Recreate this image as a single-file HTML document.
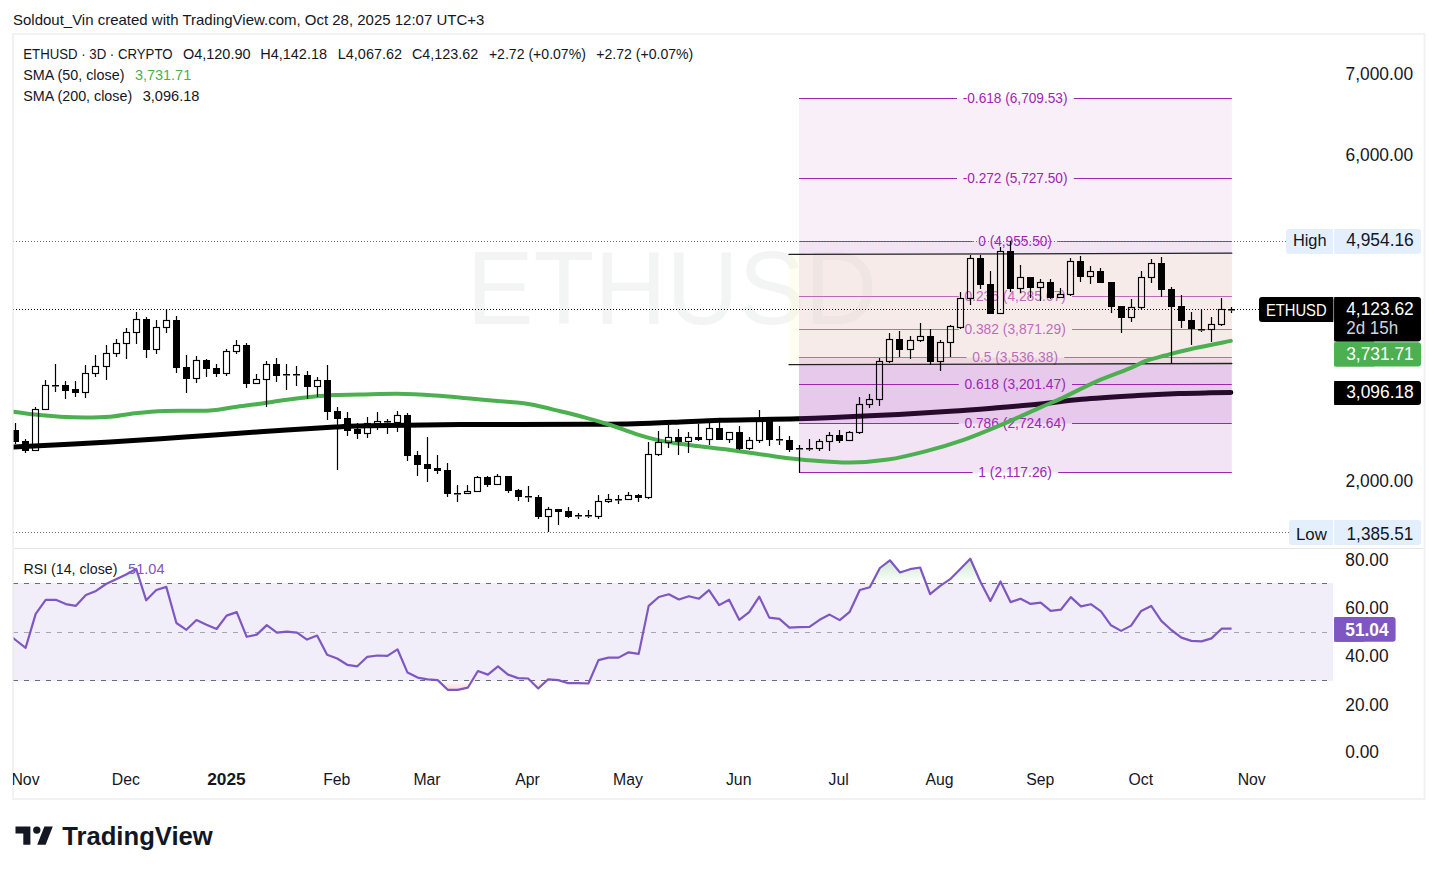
<!DOCTYPE html>
<html><head><meta charset="utf-8"><title>ETHUSD chart</title>
<style>html,body{margin:0;padding:0;background:#fff;width:1438px;height:874px;overflow:hidden;position:relative;font-family:"Liberation Sans",sans-serif;}</style>
</head><body>
<svg width="1438" height="874" viewBox="0 0 1438 874" style="position:absolute;left:0;top:0" font-family='"Liberation Sans", sans-serif'>
<defs><clipPath id="pane"><rect x="13.6" y="35" width="1319.4" height="513"/></clipPath><clipPath id="rsipane"><rect x="13.6" y="549" width="1319.4" height="216"/></clipPath><linearGradient id="gup" x1="0" y1="0" x2="0" y2="1"><stop offset="0" stop-color="#4caf50" stop-opacity="0.28"/><stop offset="1" stop-color="#4caf50" stop-opacity="0"/></linearGradient><linearGradient id="gdn" x1="0" y1="0" x2="0" y2="1"><stop offset="0" stop-color="#f23645" stop-opacity="0"/><stop offset="1" stop-color="#f23645" stop-opacity="0.2"/></linearGradient></defs>
<rect x="0" y="0" width="1438" height="874" fill="#ffffff"/>
<text x="13.0" y="25.0" font-size="14.5" fill="#131722" text-anchor="start" textLength="471.3" lengthAdjust="spacingAndGlyphs">Soldout_Vin created with TradingView.com, Oct 28, 2025 12:07 UTC+3</text>
<rect x="13" y="34" width="1411.5" height="765" fill="none" stroke="#f2f2f2" stroke-width="2"/>
<line x1="14" y1="548.5" x2="1423.5" y2="548.5" stroke="#e6e6e6" stroke-width="1"/>
<g clip-path="url(#pane)">
<text x="467.0" y="324.0" font-size="103.6" fill="#f3f5f5" text-anchor="start" textLength="410.0" lengthAdjust="spacingAndGlyphs">ETHUSD</text>
<path d="M13.60,447.10 C29.67,446.27 81.43,443.77 110.00,442.10 C138.57,440.43 160.00,438.82 185.00,437.10 C210.00,435.38 235.00,433.47 260.00,431.80 C285.00,430.13 316.67,428.10 335.00,427.10 C353.33,426.10 349.17,426.22 370.00,425.80 C390.83,425.38 424.17,424.85 460.00,424.60 C495.83,424.35 555.83,424.43 585.00,424.30 C614.17,424.17 618.25,424.22 635.00,423.80 C651.75,423.38 671.33,422.38 685.50,421.80 C699.67,421.22 701.32,420.80 720.00,420.30 C738.68,419.80 771.72,419.58 797.60,418.80 C823.48,418.02 849.83,416.85 875.30,415.60 C900.77,414.35 929.53,412.65 950.40,411.30 C971.27,409.95 985.57,408.70 1000.50,407.50 C1015.43,406.30 1026.47,405.47 1040.00,404.10 C1053.53,402.73 1065.47,400.72 1081.70,399.30 C1097.93,397.88 1121.17,396.55 1137.40,395.60 C1153.63,394.65 1167.00,394.07 1179.10,393.60 C1191.20,393.13 1201.38,392.98 1210.00,392.80 C1218.62,392.62 1227.33,392.55 1230.80,392.50" fill="none" stroke="#000000" stroke-width="5.0" stroke-linejoin="round" stroke-linecap="round"/>
<rect x="799.0" y="98.5" width="432.8" height="80.0" fill="#9c27b0" fill-opacity="0.075"/>
<rect x="799.0" y="178.5" width="432.8" height="63.0" fill="#9c27b0" fill-opacity="0.075"/>
<rect x="799.0" y="241.5" width="432.8" height="55.0" fill="#9c27b0" fill-opacity="0.13"/>
<rect x="799.0" y="296.5" width="432.8" height="33.0" fill="#9c27b0" fill-opacity="0.13"/>
<rect x="799.0" y="329.5" width="432.8" height="28.0" fill="#9c27b0" fill-opacity="0.13"/>
<rect x="799.0" y="357.5" width="432.8" height="27.0" fill="#9c27b0" fill-opacity="0.25"/>
<rect x="799.0" y="384.5" width="432.8" height="39.0" fill="#9c27b0" fill-opacity="0.25"/>
<rect x="799.0" y="423.5" width="432.8" height="49.0" fill="#9c27b0" fill-opacity="0.13"/>
<line x1="799.0" y1="98.5" x2="957.0" y2="98.5" stroke="#9c27b0" stroke-width="1.15"/>
<line x1="1073.8" y1="98.5" x2="1231.8" y2="98.5" stroke="#9c27b0" stroke-width="1.15"/>
<text x="1015.1" y="102.8" font-size="14.5" fill="#9c27b0" text-anchor="middle" textLength="104.8" lengthAdjust="spacingAndGlyphs">-0.618 (6,709.53)</text>
<line x1="799.0" y1="178.5" x2="957.0" y2="178.5" stroke="#9c27b0" stroke-width="1.15"/>
<line x1="1073.8" y1="178.5" x2="1231.8" y2="178.5" stroke="#9c27b0" stroke-width="1.15"/>
<text x="1015.1" y="182.8" font-size="14.5" fill="#9c27b0" text-anchor="middle" textLength="104.8" lengthAdjust="spacingAndGlyphs">-0.272 (5,727.50)</text>
<line x1="799.0" y1="241.5" x2="972.6" y2="241.5" stroke="#9c27b0" stroke-width="1.15"/>
<line x1="1058.2" y1="241.5" x2="1231.8" y2="241.5" stroke="#9c27b0" stroke-width="1.15"/>
<text x="1015.1" y="245.8" font-size="14.5" fill="#9c27b0" text-anchor="middle" textLength="73.6" lengthAdjust="spacingAndGlyphs">0 (4,955.50)</text>
<line x1="799.0" y1="296.5" x2="958.8" y2="296.5" stroke="#9c27b0" stroke-width="1.15"/>
<line x1="1072.0" y1="296.5" x2="1231.8" y2="296.5" stroke="#9c27b0" stroke-width="1.15"/>
<text x="1015.1" y="300.8" font-size="14.5" fill="#9c27b0" text-anchor="middle" textLength="101.3" lengthAdjust="spacingAndGlyphs">0.236 (4,285.67)</text>
<line x1="799.0" y1="329.5" x2="958.8" y2="329.5" stroke="#9c27b0" stroke-width="1.15"/>
<line x1="1072.0" y1="329.5" x2="1231.8" y2="329.5" stroke="#9c27b0" stroke-width="1.15"/>
<text x="1015.1" y="333.8" font-size="14.5" fill="#9c27b0" text-anchor="middle" textLength="101.3" lengthAdjust="spacingAndGlyphs">0.382 (3,871.29)</text>
<line x1="799.0" y1="357.5" x2="966.5" y2="357.5" stroke="#9c27b0" stroke-width="1.15"/>
<line x1="1064.3" y1="357.5" x2="1231.8" y2="357.5" stroke="#9c27b0" stroke-width="1.15"/>
<text x="1015.1" y="361.8" font-size="14.5" fill="#9c27b0" text-anchor="middle" textLength="85.8" lengthAdjust="spacingAndGlyphs">0.5 (3,536.38)</text>
<line x1="799.0" y1="384.5" x2="958.8" y2="384.5" stroke="#9c27b0" stroke-width="1.15"/>
<line x1="1072.0" y1="384.5" x2="1231.8" y2="384.5" stroke="#9c27b0" stroke-width="1.15"/>
<text x="1015.1" y="388.8" font-size="14.5" fill="#9c27b0" text-anchor="middle" textLength="101.3" lengthAdjust="spacingAndGlyphs">0.618 (3,201.47)</text>
<line x1="799.0" y1="423.5" x2="958.8" y2="423.5" stroke="#9c27b0" stroke-width="1.15"/>
<line x1="1072.0" y1="423.5" x2="1231.8" y2="423.5" stroke="#9c27b0" stroke-width="1.15"/>
<text x="1015.1" y="427.8" font-size="14.5" fill="#9c27b0" text-anchor="middle" textLength="101.3" lengthAdjust="spacingAndGlyphs">0.786 (2,724.64)</text>
<line x1="799.0" y1="472.5" x2="972.6" y2="472.5" stroke="#9c27b0" stroke-width="1.15"/>
<line x1="1058.2" y1="472.5" x2="1231.8" y2="472.5" stroke="#9c27b0" stroke-width="1.15"/>
<text x="1015.1" y="476.8" font-size="14.5" fill="#9c27b0" text-anchor="middle" textLength="73.6" lengthAdjust="spacingAndGlyphs">1 (2,117.26)</text>
<polygon points="789.0,254.4 1231.8,253.2 1231.8,363.5 789.0,364.7" fill="#fffbcf" fill-opacity="0.32"/>
<line x1="789.0" y1="254.4" x2="1231.8" y2="253.2" stroke="#222" stroke-width="1.3" stroke-linecap="round"/>
<line x1="789.0" y1="364.7" x2="1231.8" y2="363.5" stroke="#222" stroke-width="1.3" stroke-linecap="round"/>
<line x1="13" y1="241.5" x2="1286" y2="241.5" stroke="#6e717b" stroke-width="1" stroke-dasharray="1 2"/>
<line x1="13" y1="532.5" x2="1289" y2="532.5" stroke="#6e717b" stroke-width="1" stroke-dasharray="1 2"/>
<line x1="13" y1="309.5" x2="1259" y2="309.5" stroke="#000" stroke-width="1.2" stroke-dasharray="1 2"/>
<path d="M13.60,411.80 C17.17,412.27 27.27,413.77 35.00,414.60 C42.73,415.43 51.67,416.30 60.00,416.80 C68.33,417.30 76.67,417.60 85.00,417.60 C93.33,417.60 101.67,417.52 110.00,416.80 C118.33,416.08 125.83,414.27 135.00,413.30 C144.17,412.33 152.50,411.47 165.00,411.00 C177.50,410.53 198.33,411.17 210.00,410.50 C221.67,409.83 226.67,408.12 235.00,407.00 C243.33,405.88 251.67,404.97 260.00,403.80 C268.33,402.63 276.67,401.13 285.00,400.00 C293.33,398.87 301.67,397.83 310.00,397.00 C318.33,396.17 326.67,395.40 335.00,395.00 C343.33,394.60 349.57,394.80 360.00,394.60 C370.43,394.40 385.10,393.65 397.60,393.80 C410.10,393.95 422.48,394.67 435.00,395.50 C447.52,396.33 460.17,397.72 472.70,398.80 C485.23,399.88 500.65,401.08 510.20,402.00 C519.75,402.92 521.65,402.75 530.00,404.30 C538.35,405.85 551.08,409.08 560.30,411.30 C569.52,413.52 576.95,415.32 585.30,417.60 C593.65,419.88 602.05,422.30 610.40,425.00 C618.75,427.70 627.07,431.20 635.40,433.80 C643.73,436.40 652.05,438.80 660.40,440.60 C668.75,442.40 678.90,443.65 685.50,444.60 C692.10,445.55 691.32,445.25 700.00,446.30 C708.68,447.35 725.08,449.22 737.60,450.90 C750.12,452.58 762.58,454.78 775.10,456.40 C787.62,458.02 800.18,459.57 812.70,460.60 C825.22,461.63 837.68,462.77 850.20,462.60 C862.72,462.43 875.28,461.47 887.80,459.60 C900.32,457.73 912.78,454.65 925.30,451.40 C937.82,448.15 950.37,444.48 962.90,440.10 C975.43,435.72 987.65,430.52 1000.50,425.10 C1013.35,419.68 1029.93,412.02 1040.00,407.60 C1050.07,403.18 1051.63,402.88 1060.90,398.60 C1070.17,394.32 1084.25,386.88 1095.60,381.90 C1106.95,376.92 1120.65,372.18 1129.00,368.70 C1137.35,365.22 1139.67,363.20 1145.70,361.00 C1151.73,358.80 1157.32,357.58 1165.20,355.50 C1173.08,353.42 1182.07,350.93 1193.00,348.50 C1203.93,346.07 1224.50,342.17 1230.80,340.90" fill="none" stroke="#4caf50" stroke-width="4.0" stroke-linejoin="round" stroke-linecap="round"/>
<rect x="14.9" y="423" width="1.2" height="7" fill="#000"/>
<rect x="14.9" y="442" width="1.2" height="2" fill="#000"/>
<rect x="12.0" y="430" width="7" height="12" fill="#000"/>
<rect x="24.9" y="439" width="1.2" height="2" fill="#000"/>
<rect x="24.9" y="451" width="1.2" height="2" fill="#000"/>
<rect x="22.0" y="441" width="7" height="10" fill="#000"/>
<rect x="34.9" y="407" width="1.2" height="2" fill="#000"/>
<rect x="32.5" y="409.5" width="6" height="41.0" fill="none" stroke="#000" stroke-width="1.15"/>
<rect x="44.9" y="380" width="1.2" height="5" fill="#000"/>
<rect x="42.5" y="385.5" width="6" height="24.0" fill="none" stroke="#000" stroke-width="1.15"/>
<rect x="54.9" y="364" width="1.2" height="21" fill="#000"/>
<rect x="54.9" y="386.5" width="1.2" height="5.5" fill="#000"/>
<rect x="52.0" y="385" width="7" height="1.5" fill="#000"/>
<rect x="64.9" y="381" width="1.2" height="4" fill="#000"/>
<rect x="64.9" y="391" width="1.2" height="8" fill="#000"/>
<rect x="62.0" y="385" width="7" height="6" fill="#000"/>
<rect x="74.9" y="381" width="1.2" height="8" fill="#000"/>
<rect x="74.9" y="393" width="1.2" height="4" fill="#000"/>
<rect x="72.0" y="389" width="7" height="4" fill="#000"/>
<rect x="84.9" y="365" width="1.2" height="8" fill="#000"/>
<rect x="84.9" y="393" width="1.2" height="5" fill="#000"/>
<rect x="82.5" y="373.5" width="6" height="19.0" fill="none" stroke="#000" stroke-width="1.15"/>
<rect x="94.9" y="355" width="1.2" height="11" fill="#000"/>
<rect x="94.9" y="374" width="1.2" height="3" fill="#000"/>
<rect x="92.5" y="366.5" width="6" height="7.0" fill="none" stroke="#000" stroke-width="1.15"/>
<rect x="105.9" y="345" width="1.2" height="8" fill="#000"/>
<rect x="105.9" y="367" width="1.2" height="13" fill="#000"/>
<rect x="103.5" y="353.5" width="6" height="13.0" fill="none" stroke="#000" stroke-width="1.15"/>
<rect x="115.9" y="339" width="1.2" height="4" fill="#000"/>
<rect x="115.9" y="354" width="1.2" height="3" fill="#000"/>
<rect x="113.5" y="343.5" width="6" height="10.0" fill="none" stroke="#000" stroke-width="1.15"/>
<rect x="125.9" y="328" width="1.2" height="4" fill="#000"/>
<rect x="125.9" y="344" width="1.2" height="15" fill="#000"/>
<rect x="123.5" y="332.5" width="6" height="11.0" fill="none" stroke="#000" stroke-width="1.15"/>
<rect x="135.9" y="312" width="1.2" height="7" fill="#000"/>
<rect x="135.9" y="333" width="1.2" height="11" fill="#000"/>
<rect x="133.5" y="319.5" width="6" height="13.0" fill="none" stroke="#000" stroke-width="1.15"/>
<rect x="145.9" y="317" width="1.2" height="2" fill="#000"/>
<rect x="145.9" y="350" width="1.2" height="8" fill="#000"/>
<rect x="143.0" y="319" width="7" height="31" fill="#000"/>
<rect x="155.9" y="320" width="1.2" height="7" fill="#000"/>
<rect x="155.9" y="350" width="1.2" height="4" fill="#000"/>
<rect x="153.5" y="327.5" width="6" height="22.0" fill="none" stroke="#000" stroke-width="1.15"/>
<rect x="165.9" y="309" width="1.2" height="11" fill="#000"/>
<rect x="165.9" y="328" width="1.2" height="5" fill="#000"/>
<rect x="163.5" y="320.5" width="6" height="7.0" fill="none" stroke="#000" stroke-width="1.15"/>
<rect x="175.9" y="316" width="1.2" height="4" fill="#000"/>
<rect x="175.9" y="368" width="1.2" height="5" fill="#000"/>
<rect x="173.0" y="320" width="7" height="48" fill="#000"/>
<rect x="185.9" y="355" width="1.2" height="12" fill="#000"/>
<rect x="185.9" y="379" width="1.2" height="14" fill="#000"/>
<rect x="183.0" y="367" width="7" height="12" fill="#000"/>
<rect x="195.9" y="356" width="1.2" height="4" fill="#000"/>
<rect x="195.9" y="379" width="1.2" height="4" fill="#000"/>
<rect x="193.5" y="360.5" width="6" height="18.0" fill="none" stroke="#000" stroke-width="1.15"/>
<rect x="205.9" y="359" width="1.2" height="1" fill="#000"/>
<rect x="205.9" y="369" width="1.2" height="8" fill="#000"/>
<rect x="203.0" y="360" width="7" height="9" fill="#000"/>
<rect x="215.9" y="364" width="1.2" height="4" fill="#000"/>
<rect x="215.9" y="374" width="1.2" height="3" fill="#000"/>
<rect x="213.0" y="368" width="7" height="6" fill="#000"/>
<rect x="225.9" y="349" width="1.2" height="2" fill="#000"/>
<rect x="225.9" y="374" width="1.2" height="2" fill="#000"/>
<rect x="223.5" y="351.5" width="6" height="22.0" fill="none" stroke="#000" stroke-width="1.15"/>
<rect x="235.9" y="340" width="1.2" height="5" fill="#000"/>
<rect x="235.9" y="352" width="1.2" height="2" fill="#000"/>
<rect x="233.5" y="345.5" width="6" height="6.0" fill="none" stroke="#000" stroke-width="1.15"/>
<rect x="245.9" y="343" width="1.2" height="2" fill="#000"/>
<rect x="245.9" y="384" width="1.2" height="4" fill="#000"/>
<rect x="243.0" y="345" width="7" height="39" fill="#000"/>
<rect x="255.9" y="374" width="1.2" height="5" fill="#000"/>
<rect x="253.5" y="379.5" width="6" height="4.0" fill="none" stroke="#000" stroke-width="1.15"/>
<rect x="265.9" y="361" width="1.2" height="3" fill="#000"/>
<rect x="265.9" y="380" width="1.2" height="27" fill="#000"/>
<rect x="263.5" y="364.5" width="6" height="15.0" fill="none" stroke="#000" stroke-width="1.15"/>
<rect x="275.9" y="358" width="1.2" height="6" fill="#000"/>
<rect x="275.9" y="376" width="1.2" height="6" fill="#000"/>
<rect x="273.0" y="364" width="7" height="12" fill="#000"/>
<rect x="285.9" y="364" width="1.2" height="10" fill="#000"/>
<rect x="285.9" y="375.5" width="1.2" height="14.5" fill="#000"/>
<rect x="283.0" y="374" width="7" height="1.5" fill="#000"/>
<rect x="295.9" y="366" width="1.2" height="8" fill="#000"/>
<rect x="295.9" y="375.5" width="1.2" height="10.5" fill="#000"/>
<rect x="293.0" y="374" width="7" height="1.5" fill="#000"/>
<rect x="306.9" y="371" width="1.2" height="4" fill="#000"/>
<rect x="306.9" y="387" width="1.2" height="12" fill="#000"/>
<rect x="304.0" y="375" width="7" height="12" fill="#000"/>
<rect x="316.9" y="377" width="1.2" height="3" fill="#000"/>
<rect x="316.9" y="387" width="1.2" height="10" fill="#000"/>
<rect x="314.5" y="380.5" width="6" height="6.0" fill="none" stroke="#000" stroke-width="1.15"/>
<rect x="326.9" y="365" width="1.2" height="15" fill="#000"/>
<rect x="326.9" y="412" width="1.2" height="8" fill="#000"/>
<rect x="324.0" y="380" width="7" height="32" fill="#000"/>
<rect x="336.9" y="407" width="1.2" height="4" fill="#000"/>
<rect x="336.9" y="419" width="1.2" height="51" fill="#000"/>
<rect x="334.0" y="411" width="7" height="8" fill="#000"/>
<rect x="346.9" y="412" width="1.2" height="6" fill="#000"/>
<rect x="346.9" y="431" width="1.2" height="5" fill="#000"/>
<rect x="344.0" y="418" width="7" height="13" fill="#000"/>
<rect x="356.9" y="423" width="1.2" height="6" fill="#000"/>
<rect x="356.9" y="434" width="1.2" height="5" fill="#000"/>
<rect x="354.0" y="429" width="7" height="5" fill="#000"/>
<rect x="366.9" y="417" width="1.2" height="6" fill="#000"/>
<rect x="366.9" y="434" width="1.2" height="4" fill="#000"/>
<rect x="364.5" y="423.5" width="6" height="10.0" fill="none" stroke="#000" stroke-width="1.15"/>
<rect x="376.9" y="412" width="1.2" height="9" fill="#000"/>
<rect x="376.9" y="424" width="1.2" height="6" fill="#000"/>
<rect x="374.5" y="421.5" width="6" height="2.0" fill="none" stroke="#000" stroke-width="1.15"/>
<rect x="386.9" y="419" width="1.2" height="2" fill="#000"/>
<rect x="386.9" y="422.5" width="1.2" height="11.5" fill="#000"/>
<rect x="384.0" y="421" width="7" height="1.5" fill="#000"/>
<rect x="396.9" y="411" width="1.2" height="4" fill="#000"/>
<rect x="396.9" y="423" width="1.2" height="9" fill="#000"/>
<rect x="394.5" y="415.5" width="6" height="7.0" fill="none" stroke="#000" stroke-width="1.15"/>
<rect x="406.9" y="413" width="1.2" height="2" fill="#000"/>
<rect x="406.9" y="456" width="1.2" height="5" fill="#000"/>
<rect x="404.0" y="415" width="7" height="41" fill="#000"/>
<rect x="416.9" y="451" width="1.2" height="4" fill="#000"/>
<rect x="416.9" y="465" width="1.2" height="11" fill="#000"/>
<rect x="414.0" y="455" width="7" height="10" fill="#000"/>
<rect x="426.9" y="437" width="1.2" height="27" fill="#000"/>
<rect x="426.9" y="469" width="1.2" height="13" fill="#000"/>
<rect x="424.0" y="464" width="7" height="5" fill="#000"/>
<rect x="436.9" y="455" width="1.2" height="13" fill="#000"/>
<rect x="436.9" y="471" width="1.2" height="3" fill="#000"/>
<rect x="434.0" y="468" width="7" height="3" fill="#000"/>
<rect x="446.9" y="463" width="1.2" height="7" fill="#000"/>
<rect x="446.9" y="494" width="1.2" height="3" fill="#000"/>
<rect x="444.0" y="470" width="7" height="24" fill="#000"/>
<rect x="456.9" y="485" width="1.2" height="8" fill="#000"/>
<rect x="456.9" y="494.5" width="1.2" height="7.5" fill="#000"/>
<rect x="454.0" y="493" width="7" height="1.5" fill="#000"/>
<rect x="466.9" y="485" width="1.2" height="6" fill="#000"/>
<rect x="464.5" y="491.5" width="6" height="2.0" fill="none" stroke="#000" stroke-width="1.15"/>
<rect x="476.9" y="476" width="1.2" height="1" fill="#000"/>
<rect x="474.5" y="477.5" width="6" height="14.0" fill="none" stroke="#000" stroke-width="1.15"/>
<rect x="486.9" y="476" width="1.2" height="1" fill="#000"/>
<rect x="486.9" y="485" width="1.2" height="2" fill="#000"/>
<rect x="484.0" y="477" width="7" height="8" fill="#000"/>
<rect x="496.9" y="474" width="1.2" height="2" fill="#000"/>
<rect x="494.5" y="476.5" width="6" height="8.0" fill="none" stroke="#000" stroke-width="1.15"/>
<rect x="507.9" y="491" width="1.2" height="2" fill="#000"/>
<rect x="505.0" y="476" width="7" height="15" fill="#000"/>
<rect x="517.9" y="489" width="1.2" height="1" fill="#000"/>
<rect x="517.9" y="497" width="1.2" height="4" fill="#000"/>
<rect x="515.0" y="490" width="7" height="7" fill="#000"/>
<rect x="527.9" y="486" width="1.2" height="10" fill="#000"/>
<rect x="527.9" y="497.5" width="1.2" height="4.5" fill="#000"/>
<rect x="525.0" y="496" width="7" height="1.5" fill="#000"/>
<rect x="537.9" y="495" width="1.2" height="2" fill="#000"/>
<rect x="537.9" y="517" width="1.2" height="2" fill="#000"/>
<rect x="535.0" y="497" width="7" height="20" fill="#000"/>
<rect x="547.9" y="507" width="1.2" height="2" fill="#000"/>
<rect x="547.9" y="517" width="1.2" height="15" fill="#000"/>
<rect x="545.5" y="509.5" width="6" height="7.0" fill="none" stroke="#000" stroke-width="1.15"/>
<rect x="557.9" y="512" width="1.2" height="13" fill="#000"/>
<rect x="555.0" y="509" width="7" height="3" fill="#000"/>
<rect x="567.9" y="507" width="1.2" height="4" fill="#000"/>
<rect x="567.9" y="517" width="1.2" height="1" fill="#000"/>
<rect x="565.0" y="511" width="7" height="6" fill="#000"/>
<rect x="577.9" y="513" width="1.2" height="2" fill="#000"/>
<rect x="577.9" y="516.5" width="1.2" height="2.5" fill="#000"/>
<rect x="575.0" y="515" width="7" height="1.5" fill="#000"/>
<rect x="587.9" y="510" width="1.2" height="5" fill="#000"/>
<rect x="587.9" y="516.5" width="1.2" height="1.5" fill="#000"/>
<rect x="585.0" y="515" width="7" height="1.5" fill="#000"/>
<rect x="597.9" y="495" width="1.2" height="6" fill="#000"/>
<rect x="597.9" y="517" width="1.2" height="2" fill="#000"/>
<rect x="595.5" y="501.5" width="6" height="15.0" fill="none" stroke="#000" stroke-width="1.15"/>
<rect x="607.9" y="494" width="1.2" height="5" fill="#000"/>
<rect x="607.9" y="502" width="1.2" height="1" fill="#000"/>
<rect x="605.5" y="499.5" width="6" height="2.0" fill="none" stroke="#000" stroke-width="1.15"/>
<rect x="617.9" y="495" width="1.2" height="4" fill="#000"/>
<rect x="617.9" y="500.5" width="1.2" height="3.5" fill="#000"/>
<rect x="615.0" y="499" width="7" height="1.5" fill="#000"/>
<rect x="627.9" y="492" width="1.2" height="3" fill="#000"/>
<rect x="625.5" y="495.5" width="6" height="4.0" fill="none" stroke="#000" stroke-width="1.15"/>
<rect x="637.9" y="494" width="1.2" height="1" fill="#000"/>
<rect x="637.9" y="498" width="1.2" height="4" fill="#000"/>
<rect x="635.0" y="495" width="7" height="3" fill="#000"/>
<rect x="647.9" y="442" width="1.2" height="12" fill="#000"/>
<rect x="647.9" y="498" width="1.2" height="1" fill="#000"/>
<rect x="645.5" y="454.5" width="6" height="43.0" fill="none" stroke="#000" stroke-width="1.15"/>
<rect x="657.9" y="431" width="1.2" height="11" fill="#000"/>
<rect x="657.9" y="455" width="1.2" height="1" fill="#000"/>
<rect x="655.5" y="442.5" width="6" height="12.0" fill="none" stroke="#000" stroke-width="1.15"/>
<rect x="667.9" y="425" width="1.2" height="12" fill="#000"/>
<rect x="667.9" y="443" width="1.2" height="5" fill="#000"/>
<rect x="665.5" y="437.5" width="6" height="5.0" fill="none" stroke="#000" stroke-width="1.15"/>
<rect x="677.9" y="429" width="1.2" height="8" fill="#000"/>
<rect x="677.9" y="442" width="1.2" height="13" fill="#000"/>
<rect x="675.0" y="437" width="7" height="5" fill="#000"/>
<rect x="687.9" y="432" width="1.2" height="5" fill="#000"/>
<rect x="687.9" y="442" width="1.2" height="11" fill="#000"/>
<rect x="685.5" y="437.5" width="6" height="4.0" fill="none" stroke="#000" stroke-width="1.15"/>
<rect x="697.9" y="424" width="1.2" height="13" fill="#000"/>
<rect x="697.9" y="440" width="1.2" height="1" fill="#000"/>
<rect x="695.0" y="437" width="7" height="3" fill="#000"/>
<rect x="708.9" y="423" width="1.2" height="5" fill="#000"/>
<rect x="708.9" y="440" width="1.2" height="5" fill="#000"/>
<rect x="706.5" y="428.5" width="6" height="11.0" fill="none" stroke="#000" stroke-width="1.15"/>
<rect x="718.9" y="418" width="1.2" height="10" fill="#000"/>
<rect x="716.0" y="428" width="7" height="12" fill="#000"/>
<rect x="728.9" y="440" width="1.2" height="3" fill="#000"/>
<rect x="726.5" y="432.5" width="6" height="7.0" fill="none" stroke="#000" stroke-width="1.15"/>
<rect x="738.9" y="426" width="1.2" height="6" fill="#000"/>
<rect x="738.9" y="449" width="1.2" height="1" fill="#000"/>
<rect x="736.0" y="432" width="7" height="17" fill="#000"/>
<rect x="748.9" y="437" width="1.2" height="3" fill="#000"/>
<rect x="748.9" y="449" width="1.2" height="1" fill="#000"/>
<rect x="746.5" y="440.5" width="6" height="8.0" fill="none" stroke="#000" stroke-width="1.15"/>
<rect x="758.9" y="410" width="1.2" height="11" fill="#000"/>
<rect x="758.9" y="441" width="1.2" height="2" fill="#000"/>
<rect x="756.5" y="421.5" width="6" height="19.0" fill="none" stroke="#000" stroke-width="1.15"/>
<rect x="768.9" y="420" width="1.2" height="1" fill="#000"/>
<rect x="768.9" y="440" width="1.2" height="6" fill="#000"/>
<rect x="766.0" y="421" width="7" height="19" fill="#000"/>
<rect x="778.9" y="426" width="1.2" height="13" fill="#000"/>
<rect x="778.9" y="440.5" width="1.2" height="4.5" fill="#000"/>
<rect x="776.0" y="439" width="7" height="1.5" fill="#000"/>
<rect x="788.9" y="436" width="1.2" height="4" fill="#000"/>
<rect x="788.9" y="450" width="1.2" height="2" fill="#000"/>
<rect x="786.0" y="440" width="7" height="10" fill="#000"/>
<rect x="798.9" y="445" width="1.2" height="3" fill="#000"/>
<rect x="798.9" y="449.5" width="1.2" height="23.5" fill="#000"/>
<rect x="796.0" y="448" width="7" height="1.5" fill="#000"/>
<rect x="808.9" y="439" width="1.2" height="9" fill="#000"/>
<rect x="808.9" y="449.5" width="1.2" height="1.5" fill="#000"/>
<rect x="806.0" y="448" width="7" height="1.5" fill="#000"/>
<rect x="818.9" y="439" width="1.2" height="2" fill="#000"/>
<rect x="818.9" y="449" width="1.2" height="2" fill="#000"/>
<rect x="816.5" y="441.5" width="6" height="7.0" fill="none" stroke="#000" stroke-width="1.15"/>
<rect x="828.9" y="432" width="1.2" height="3" fill="#000"/>
<rect x="828.9" y="442" width="1.2" height="9" fill="#000"/>
<rect x="826.5" y="435.5" width="6" height="6.0" fill="none" stroke="#000" stroke-width="1.15"/>
<rect x="838.9" y="430" width="1.2" height="5" fill="#000"/>
<rect x="838.9" y="441" width="1.2" height="2" fill="#000"/>
<rect x="836.0" y="435" width="7" height="6" fill="#000"/>
<rect x="848.9" y="431" width="1.2" height="1" fill="#000"/>
<rect x="846.5" y="432.5" width="6" height="8.0" fill="none" stroke="#000" stroke-width="1.15"/>
<rect x="858.9" y="397" width="1.2" height="7" fill="#000"/>
<rect x="858.9" y="433" width="1.2" height="1" fill="#000"/>
<rect x="856.5" y="404.5" width="6" height="28.0" fill="none" stroke="#000" stroke-width="1.15"/>
<rect x="868.9" y="394" width="1.2" height="5" fill="#000"/>
<rect x="868.9" y="405" width="1.2" height="3" fill="#000"/>
<rect x="866.5" y="399.5" width="6" height="5.0" fill="none" stroke="#000" stroke-width="1.15"/>
<rect x="878.9" y="358" width="1.2" height="3" fill="#000"/>
<rect x="878.9" y="400" width="1.2" height="6" fill="#000"/>
<rect x="876.5" y="361.5" width="6" height="38.0" fill="none" stroke="#000" stroke-width="1.15"/>
<rect x="888.9" y="333" width="1.2" height="6" fill="#000"/>
<rect x="888.9" y="362" width="1.2" height="1" fill="#000"/>
<rect x="886.5" y="339.5" width="6" height="22.0" fill="none" stroke="#000" stroke-width="1.15"/>
<rect x="898.9" y="331" width="1.2" height="8" fill="#000"/>
<rect x="898.9" y="350" width="1.2" height="7" fill="#000"/>
<rect x="896.0" y="339" width="7" height="11" fill="#000"/>
<rect x="909.9" y="336" width="1.2" height="4" fill="#000"/>
<rect x="909.9" y="350" width="1.2" height="9" fill="#000"/>
<rect x="907.5" y="340.5" width="6" height="9.0" fill="none" stroke="#000" stroke-width="1.15"/>
<rect x="919.9" y="323" width="1.2" height="13" fill="#000"/>
<rect x="919.9" y="341" width="1.2" height="1" fill="#000"/>
<rect x="917.5" y="336.5" width="6" height="4.0" fill="none" stroke="#000" stroke-width="1.15"/>
<rect x="929.9" y="329" width="1.2" height="7" fill="#000"/>
<rect x="929.9" y="362" width="1.2" height="3" fill="#000"/>
<rect x="927.0" y="336" width="7" height="26" fill="#000"/>
<rect x="939.9" y="340" width="1.2" height="2" fill="#000"/>
<rect x="939.9" y="362" width="1.2" height="9" fill="#000"/>
<rect x="937.5" y="342.5" width="6" height="19.0" fill="none" stroke="#000" stroke-width="1.15"/>
<rect x="949.9" y="325" width="1.2" height="1" fill="#000"/>
<rect x="949.9" y="343" width="1.2" height="14" fill="#000"/>
<rect x="947.5" y="326.5" width="6" height="16.0" fill="none" stroke="#000" stroke-width="1.15"/>
<rect x="959.9" y="292" width="1.2" height="6" fill="#000"/>
<rect x="959.9" y="328" width="1.2" height="1" fill="#000"/>
<rect x="957.5" y="298.5" width="6" height="29.0" fill="none" stroke="#000" stroke-width="1.15"/>
<rect x="969.9" y="255" width="1.2" height="3" fill="#000"/>
<rect x="969.9" y="299" width="1.2" height="6" fill="#000"/>
<rect x="967.5" y="258.5" width="6" height="40.0" fill="none" stroke="#000" stroke-width="1.15"/>
<rect x="979.9" y="255" width="1.2" height="3" fill="#000"/>
<rect x="979.9" y="285" width="1.2" height="4" fill="#000"/>
<rect x="977.0" y="258" width="7" height="27" fill="#000"/>
<rect x="989.9" y="271" width="1.2" height="13" fill="#000"/>
<rect x="987.0" y="284" width="7" height="30" fill="#000"/>
<rect x="999.9" y="247" width="1.2" height="4" fill="#000"/>
<rect x="997.5" y="251.5" width="6" height="62.0" fill="none" stroke="#000" stroke-width="1.15"/>
<rect x="1009.9" y="241" width="1.2" height="10" fill="#000"/>
<rect x="1009.9" y="289" width="1.2" height="3" fill="#000"/>
<rect x="1007.0" y="251" width="7" height="38" fill="#000"/>
<rect x="1019.9" y="265" width="1.2" height="12" fill="#000"/>
<rect x="1019.9" y="289" width="1.2" height="4" fill="#000"/>
<rect x="1017.5" y="277.5" width="6" height="11.0" fill="none" stroke="#000" stroke-width="1.15"/>
<rect x="1029.9" y="288" width="1.2" height="10" fill="#000"/>
<rect x="1027.0" y="277" width="7" height="11" fill="#000"/>
<rect x="1039.9" y="279" width="1.2" height="3" fill="#000"/>
<rect x="1039.9" y="288" width="1.2" height="13" fill="#000"/>
<rect x="1037.5" y="282.5" width="6" height="5.0" fill="none" stroke="#000" stroke-width="1.15"/>
<rect x="1049.9" y="279" width="1.2" height="3" fill="#000"/>
<rect x="1049.9" y="298" width="1.2" height="1" fill="#000"/>
<rect x="1047.0" y="282" width="7" height="16" fill="#000"/>
<rect x="1059.9" y="288" width="1.2" height="6" fill="#000"/>
<rect x="1057.5" y="294.5" width="6" height="3.0" fill="none" stroke="#000" stroke-width="1.15"/>
<rect x="1069.9" y="258" width="1.2" height="3" fill="#000"/>
<rect x="1069.9" y="295" width="1.2" height="1" fill="#000"/>
<rect x="1067.5" y="261.5" width="6" height="33.0" fill="none" stroke="#000" stroke-width="1.15"/>
<rect x="1079.9" y="256" width="1.2" height="5" fill="#000"/>
<rect x="1079.9" y="277" width="1.2" height="5" fill="#000"/>
<rect x="1077.0" y="261" width="7" height="16" fill="#000"/>
<rect x="1089.9" y="266" width="1.2" height="5" fill="#000"/>
<rect x="1089.9" y="277" width="1.2" height="7" fill="#000"/>
<rect x="1087.5" y="271.5" width="6" height="5.0" fill="none" stroke="#000" stroke-width="1.15"/>
<rect x="1099.9" y="268" width="1.2" height="3" fill="#000"/>
<rect x="1097.0" y="271" width="7" height="12" fill="#000"/>
<rect x="1110.9" y="307" width="1.2" height="6" fill="#000"/>
<rect x="1108.0" y="282" width="7" height="25" fill="#000"/>
<rect x="1120.9" y="318" width="1.2" height="15" fill="#000"/>
<rect x="1118.0" y="306" width="7" height="12" fill="#000"/>
<rect x="1130.9" y="299" width="1.2" height="8" fill="#000"/>
<rect x="1130.9" y="318" width="1.2" height="4" fill="#000"/>
<rect x="1128.5" y="307.5" width="6" height="10.0" fill="none" stroke="#000" stroke-width="1.15"/>
<rect x="1140.9" y="271" width="1.2" height="6" fill="#000"/>
<rect x="1140.9" y="308" width="1.2" height="2" fill="#000"/>
<rect x="1138.5" y="277.5" width="6" height="30.0" fill="none" stroke="#000" stroke-width="1.15"/>
<rect x="1150.9" y="259" width="1.2" height="4" fill="#000"/>
<rect x="1150.9" y="278" width="1.2" height="5" fill="#000"/>
<rect x="1148.5" y="263.5" width="6" height="14.0" fill="none" stroke="#000" stroke-width="1.15"/>
<rect x="1160.9" y="257" width="1.2" height="6" fill="#000"/>
<rect x="1160.9" y="290" width="1.2" height="7" fill="#000"/>
<rect x="1158.0" y="263" width="7" height="27" fill="#000"/>
<rect x="1170.9" y="287" width="1.2" height="2" fill="#000"/>
<rect x="1170.9" y="307" width="1.2" height="57" fill="#000"/>
<rect x="1168.0" y="289" width="7" height="18" fill="#000"/>
<rect x="1180.9" y="295" width="1.2" height="11" fill="#000"/>
<rect x="1180.9" y="321" width="1.2" height="7" fill="#000"/>
<rect x="1178.0" y="306" width="7" height="15" fill="#000"/>
<rect x="1190.9" y="312" width="1.2" height="8" fill="#000"/>
<rect x="1190.9" y="329" width="1.2" height="16" fill="#000"/>
<rect x="1188.0" y="320" width="7" height="9" fill="#000"/>
<rect x="1200.9" y="309" width="1.2" height="20" fill="#000"/>
<rect x="1200.9" y="330.5" width="1.2" height="1.5" fill="#000"/>
<rect x="1198.0" y="329" width="7" height="1.5" fill="#000"/>
<rect x="1210.9" y="317" width="1.2" height="7" fill="#000"/>
<rect x="1210.9" y="330" width="1.2" height="12" fill="#000"/>
<rect x="1208.5" y="324.5" width="6" height="5.0" fill="none" stroke="#000" stroke-width="1.15"/>
<rect x="1220.9" y="298" width="1.2" height="11" fill="#000"/>
<rect x="1220.9" y="325" width="1.2" height="1" fill="#000"/>
<rect x="1218.5" y="309.5" width="6" height="15.0" fill="none" stroke="#000" stroke-width="1.15"/>
<rect x="1230.9" y="307" width="1.2" height="2" fill="#000"/>
<rect x="1230.9" y="310.5" width="1.2" height="2.5" fill="#000"/>
<rect x="1228.0" y="309" width="7" height="1.5" fill="#000"/>
</g>
<g clip-path="url(#rsipane)">
<rect x="13" y="583" width="1320" height="98" fill="#7e57c2" fill-opacity="0.1"/>
<polygon points="107.0,583.5 116.1,579.2 126.1,574.5 136.2,568.9 140.8,583.5" fill="url(#gup)"/>
<polygon points="871.7,583.5 879.9,568.0 889.9,560.3 900.0,572.5 910.0,569.2 920.1,567.5 926.1,583.5" fill="url(#gup)"/>
<polygon points="943.8,583.5 950.2,579.2 960.3,568.9 970.3,558.7 980.4,581.7 981.3,583.5" fill="url(#gup)"/>
<polygon points="999.4,583.5 1000.5,581.4 1001.5,583.5" fill="url(#gup)"/>
<polygon points="438.1,680.5 447.7,689.8 457.8,689.8 467.8,687.7 472.1,680.5" fill="url(#gdn)"/>
<polygon points="530.1,680.5 538.2,688.5 546.9,680.5" fill="url(#gdn)"/>
<polygon points="559.5,680.5 568.3,683.2 578.4,683.2 588.4,683.5 589.7,680.5" fill="url(#gdn)"/>
<line x1="13" y1="583.5" x2="1333" y2="583.5" stroke="#6a6d78" stroke-width="1.1" stroke-dasharray="5 6"/>
<line x1="13" y1="632.5" x2="1333" y2="632.5" stroke="#a4a6ae" stroke-width="1" stroke-dasharray="5 6"/>
<line x1="13" y1="680.5" x2="1333" y2="680.5" stroke="#6a6d78" stroke-width="1.1" stroke-dasharray="5 6"/>
<polyline points="5.5,632.0 15.6,640.0 25.6,647.9 35.7,613.9 45.7,599.8 55.8,599.8 65.8,604.1 75.9,605.8 85.9,595.0 96.0,590.9 106.0,584.0 116.1,579.2 126.1,574.5 136.2,568.9 146.2,600.3 156.3,590.0 166.3,586.9 176.4,623.0 186.4,629.8 196.5,620.0 206.5,624.7 216.6,629.0 226.6,615.6 236.7,612.1 246.7,636.8 256.8,634.6 266.8,625.1 276.9,632.6 286.9,631.7 297.0,632.6 307.0,639.6 317.1,635.6 327.1,654.8 337.2,658.5 347.2,664.8 357.3,666.3 367.3,656.8 377.4,655.5 387.4,655.9 397.5,649.3 407.5,672.6 417.6,677.6 427.6,679.3 437.7,680.1 447.7,689.8 457.8,689.8 467.8,687.7 477.9,671.0 487.9,674.6 498.0,666.3 508.0,674.6 518.1,678.1 528.1,678.5 538.2,688.5 548.2,679.3 558.3,680.1 568.3,683.2 578.4,683.2 588.4,683.5 598.5,660.1 608.5,657.6 618.6,657.6 628.6,652.3 638.7,653.9 648.7,605.9 658.8,597.0 668.8,594.2 678.9,599.5 688.9,596.2 699.0,598.7 709.0,590.2 719.1,605.1 729.1,599.7 739.2,619.8 749.2,612.2 759.3,596.7 769.3,617.6 779.4,618.9 789.4,627.6 799.5,627.1 809.5,626.8 819.6,619.8 829.6,614.6 839.7,620.1 849.7,611.8 859.8,590.0 869.8,587.2 879.9,568.0 889.9,560.3 900.0,572.5 910.0,569.2 920.1,567.5 930.1,594.2 940.2,585.9 950.2,579.2 960.3,568.9 970.3,558.7 980.4,581.7 990.4,600.9 1000.5,581.4 1010.5,602.1 1020.6,598.7 1030.6,603.9 1040.7,602.6 1050.7,610.9 1060.8,609.7 1070.8,597.1 1080.9,606.4 1090.9,604.2 1101.0,611.4 1111.0,625.3 1121.1,630.9 1131.1,625.6 1141.2,610.9 1151.2,605.9 1161.3,620.9 1171.3,630.0 1181.4,637.6 1191.4,640.9 1201.5,641.4 1211.5,638.4 1221.6,628.7 1231.6,628.7" fill="none" stroke="#7e57c2" stroke-width="2.2" stroke-linejoin="round"/>
</g>
<text x="23.3" y="58.8" font-size="14.5" fill="#131722" text-anchor="start" textLength="149.2" lengthAdjust="spacingAndGlyphs">ETHUSD · 3D · CRYPTO</text>
<text x="182.9" y="58.8" font-size="14.5" fill="#131722" text-anchor="start" textLength="67.7" lengthAdjust="spacingAndGlyphs">O4,120.90</text>
<text x="260.3" y="58.8" font-size="14.5" fill="#131722" text-anchor="start" textLength="66.7" lengthAdjust="spacingAndGlyphs">H4,142.18</text>
<text x="337.8" y="58.8" font-size="14.5" fill="#131722" text-anchor="start" textLength="64.2" lengthAdjust="spacingAndGlyphs">L4,067.62</text>
<text x="412.0" y="58.8" font-size="14.5" fill="#131722" text-anchor="start" textLength="66.3" lengthAdjust="spacingAndGlyphs">C4,123.62</text>
<text x="488.9" y="58.8" font-size="14.5" fill="#131722" text-anchor="start" textLength="97.0" lengthAdjust="spacingAndGlyphs">+2.72 (+0.07%)</text>
<text x="596.3" y="58.8" font-size="14.5" fill="#131722" text-anchor="start" textLength="97.0" lengthAdjust="spacingAndGlyphs">+2.72 (+0.07%)</text>
<text x="23.3" y="79.8" font-size="14.5" fill="#131722" text-anchor="start" textLength="101.1" lengthAdjust="spacingAndGlyphs">SMA (50, close)</text>
<text x="134.9" y="79.8" font-size="14.5" fill="#4caf50" text-anchor="start" textLength="56.3" lengthAdjust="spacingAndGlyphs">3,731.71</text>
<text x="23.3" y="101.0" font-size="14.5" fill="#131722" text-anchor="start" textLength="108.9" lengthAdjust="spacingAndGlyphs">SMA (200, close)</text>
<text x="142.7" y="101.0" font-size="14.5" fill="#131722" text-anchor="start" textLength="56.8" lengthAdjust="spacingAndGlyphs">3,096.18</text>
<text x="23.4" y="574.0" font-size="14.5" fill="#131722" text-anchor="start" textLength="94.0" lengthAdjust="spacingAndGlyphs">RSI (14, close)</text>
<text x="128.1" y="574.0" font-size="14.5" fill="#7e57c2" text-anchor="start" textLength="36.4" lengthAdjust="spacingAndGlyphs">51.04</text>
<text x="1345.6" y="79.8" font-size="17.5" fill="#131722" text-anchor="start" textLength="67.5" lengthAdjust="spacingAndGlyphs">7,000.00</text>
<text x="1345.6" y="160.9" font-size="17.5" fill="#131722" text-anchor="start" textLength="67.5" lengthAdjust="spacingAndGlyphs">6,000.00</text>
<text x="1345.6" y="487.0" font-size="17.5" fill="#131722" text-anchor="start" textLength="67.5" lengthAdjust="spacingAndGlyphs">2,000.00</text>
<rect x="1286" y="229" width="47" height="24.8" rx="3" fill="#e3effd"/>
<rect x="1310" y="229" width="23" height="24.8" fill="#e3effd"/>
<rect x="1334.2" y="229" width="86.8" height="24.8" rx="3" fill="#e3effd"/>
<rect x="1334.2" y="229" width="40" height="24.8" fill="#e3effd"/>
<text x="1292.9" y="246.3" font-size="17" fill="#131722" text-anchor="start" textLength="33.7" lengthAdjust="spacingAndGlyphs">High</text>
<text x="1346.2" y="246.3" font-size="17.5" fill="#131722" text-anchor="start" textLength="67.6" lengthAdjust="spacingAndGlyphs">4,954.16</text>
<rect x="1289" y="520" width="44" height="25" rx="3" fill="#e3effd"/>
<rect x="1310" y="520" width="23" height="25" fill="#e3effd"/>
<rect x="1334.2" y="520" width="86.8" height="25" rx="3" fill="#e3effd"/>
<rect x="1334.2" y="520" width="40" height="25" fill="#e3effd"/>
<text x="1295.9" y="539.7" font-size="17" fill="#131722" text-anchor="start" textLength="30.9" lengthAdjust="spacingAndGlyphs">Low</text>
<text x="1346.6" y="539.7" font-size="17.5" fill="#131722" text-anchor="start" textLength="66.7" lengthAdjust="spacingAndGlyphs">1,385.51</text>
<rect x="1259" y="297" width="74.3" height="25" rx="3" fill="#000"/>
<rect x="1300" y="297" width="33.3" height="25" fill="#000"/>
<rect x="1334.2" y="297" width="86.8" height="44.4" rx="3" fill="#000"/>
<rect x="1334.2" y="297" width="40" height="44.4" fill="#000"/>
<text x="1265.9" y="315.7" font-size="17" fill="#fff" text-anchor="start" textLength="60.7" lengthAdjust="spacingAndGlyphs">ETHUSD</text>
<text x="1346.2" y="314.5" font-size="17.5" fill="#fff" text-anchor="start" textLength="67.6" lengthAdjust="spacingAndGlyphs">4,123.62</text>
<text x="1346.2" y="334.4" font-size="17.5" fill="#d1d4dc" text-anchor="start" textLength="52.0" lengthAdjust="spacingAndGlyphs">2d 15h</text>
<rect x="1334.2" y="342.2" width="86.8" height="24.3" rx="3" fill="#4caf50"/>
<rect x="1334.2" y="342.2" width="40" height="24.3" fill="#4caf50"/>
<text x="1346.2" y="359.6" font-size="17.5" fill="#fff" text-anchor="start" textLength="67.6" lengthAdjust="spacingAndGlyphs">3,731.71</text>
<rect x="1334.2" y="381" width="86.8" height="24" rx="3" fill="#000"/>
<rect x="1334.2" y="381" width="40" height="24" fill="#000"/>
<text x="1346.2" y="398.0" font-size="17.5" fill="#fff" text-anchor="start" textLength="67.6" lengthAdjust="spacingAndGlyphs">3,096.18</text>
<text x="1345.3" y="565.6" font-size="17.5" fill="#131722" text-anchor="start" textLength="43.3" lengthAdjust="spacingAndGlyphs">80.00</text>
<text x="1345.3" y="614.2" font-size="17.5" fill="#131722" text-anchor="start" textLength="43.3" lengthAdjust="spacingAndGlyphs">60.00</text>
<text x="1345.3" y="662.4" font-size="17.5" fill="#131722" text-anchor="start" textLength="43.3" lengthAdjust="spacingAndGlyphs">40.00</text>
<text x="1345.3" y="710.6" font-size="17.5" fill="#131722" text-anchor="start" textLength="43.3" lengthAdjust="spacingAndGlyphs">20.00</text>
<text x="1345.3" y="758.4" font-size="17.5" fill="#131722" text-anchor="start" textLength="33.7" lengthAdjust="spacingAndGlyphs">0.00</text>
<rect x="1334.2" y="617.1" width="61.4" height="24.7" rx="3" fill="#7e57c2"/>
<rect x="1334.2" y="617.1" width="30" height="24.7" fill="#7e57c2"/>
<text x="1345.3" y="635.6" font-size="17.5" fill="#fff" text-anchor="start" font-weight="bold" textLength="43.3" lengthAdjust="spacingAndGlyphs">51.04</text>
<clipPath id="tax"><rect x="13" y="765" width="1320" height="34"/></clipPath>
<g clip-path="url(#tax)">
<text x="25.5" y="784.5" font-size="15.8" fill="#131722" text-anchor="middle">Nov</text>
<text x="125.8" y="784.5" font-size="15.8" fill="#131722" text-anchor="middle">Dec</text>
<text x="226.5" y="784.5" font-size="15.8" fill="#131722" text-anchor="middle" font-weight="bold" textLength="38.5" lengthAdjust="spacingAndGlyphs">2025</text>
<text x="336.8" y="784.5" font-size="15.8" fill="#131722" text-anchor="middle">Feb</text>
<text x="427.0" y="784.5" font-size="15.8" fill="#131722" text-anchor="middle">Mar</text>
<text x="527.5" y="784.5" font-size="15.8" fill="#131722" text-anchor="middle">Apr</text>
<text x="628.0" y="784.5" font-size="15.8" fill="#131722" text-anchor="middle">May</text>
<text x="738.7" y="784.5" font-size="15.8" fill="#131722" text-anchor="middle">Jun</text>
<text x="838.6" y="784.5" font-size="15.8" fill="#131722" text-anchor="middle">Jul</text>
<text x="939.6" y="784.5" font-size="15.8" fill="#131722" text-anchor="middle">Aug</text>
<text x="1040.2" y="784.5" font-size="15.8" fill="#131722" text-anchor="middle">Sep</text>
<text x="1140.8" y="784.5" font-size="15.8" fill="#131722" text-anchor="middle">Oct</text>
<text x="1251.7" y="784.5" font-size="15.8" fill="#131722" text-anchor="middle">Nov</text>
</g>
<g fill="#131722">
<polygon points="15.5,826.4 30.4,826.4 30.4,844.7 23.3,844.7 23.3,833.5 15.5,833.5"/>
<circle cx="36.8" cy="830.1" r="3.7"/>
<polygon points="44.4,826.4 52.8,826.4 45.6,844.7 37.2,844.7"/>
</g>
<text x="62.2" y="845.0" font-size="26" fill="#131722" text-anchor="start" font-weight="bold" textLength="150.6" lengthAdjust="spacingAndGlyphs">TradingView</text>
</svg>
</body></html>
